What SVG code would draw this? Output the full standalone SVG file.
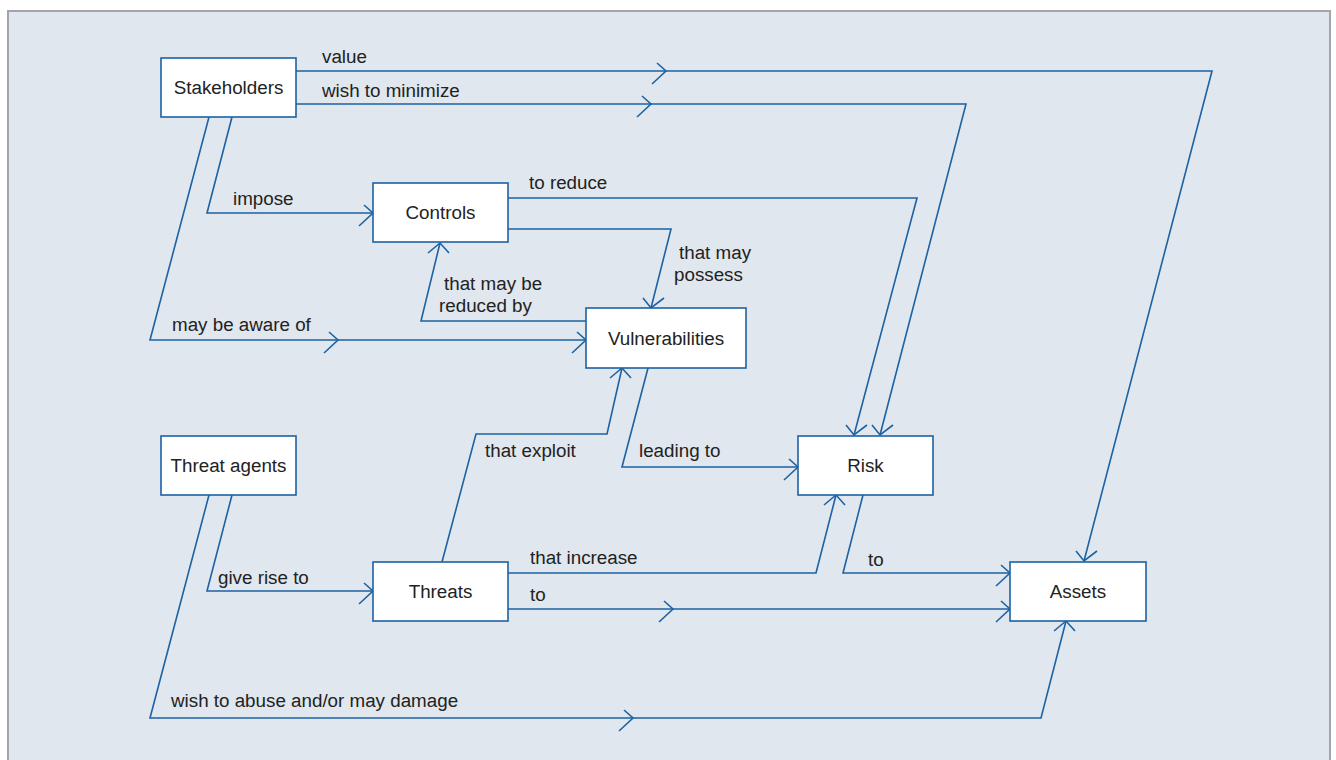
<svg xmlns="http://www.w3.org/2000/svg" xmlns:xlink="http://www.w3.org/1999/xlink" width="1336" height="760" viewBox="0 0 1336 760">
  <style>
    .panel { fill: #e0e7ee; stroke: #a3a5a8; stroke-width: 2; }
    .node rect { fill: #ffffff; stroke: #1d62a3; stroke-width: 1.6; }
    .node text { font-family: "Liberation Sans", Arial, sans-serif; font-size: 18.8px; fill: #222222; text-anchor: middle; }
    .link { fill: none; stroke: #1d62a3; stroke-width: 1.6; stroke-linejoin: miter; }
    .lbl { font-family: "Liberation Sans", Arial, sans-serif; font-size: 18.8px; fill: #222222; }
  </style>
  <defs>
    <!-- open chevron heads, slanted like the connector diagonals -->
    <path id="headR" d="M-9,-8 L0,0 L-14,13" class="link"/>
    <path id="headD" d="M-8,-10 L0,0 L13,-10" class="link"/>
    <path id="headU" d="M-12,10 L0,0 L9,10" class="link"/>
  </defs>

  <rect x="0" y="0" width="1336" height="760" fill="#ffffff"/>
  <rect class="panel" x="8" y="11" width="1322" height="760"/>

  <g id="connectors">
    <!-- Stakeholders -> Assets : value -->
    <path class="link" d="M296,71 H1212 L1084,561"/>
    <use href="#headR" x="666" y="71"/>
    <use href="#headD" x="1084" y="561"/>
    <text class="lbl" x="322" y="63">value</text>

    <!-- Stakeholders -> Risk : wish to minimize -->
    <path class="link" d="M296,104 H966 L880,435"/>
    <use href="#headR" x="651" y="104"/>
    <use href="#headD" x="880" y="435"/>
    <text class="lbl" x="322" y="97">wish to minimize</text>

    <!-- Stakeholders -> Controls : impose -->
    <path class="link" d="M232,117 L207,213 H373"/>
    <use href="#headR" x="373" y="213"/>
    <text class="lbl" x="233" y="205">impose</text>

    <!-- Stakeholders -> Vulnerabilities : may be aware of -->
    <path class="link" d="M209,117 L150,340 H586"/>
    <use href="#headR" x="338" y="340"/>
    <use href="#headR" x="586" y="340"/>
    <text class="lbl" x="172" y="331">may be aware of</text>

    <!-- Controls -> Risk : to reduce -->
    <path class="link" d="M508,198 H917 L854,435"/>
    <use href="#headD" x="854" y="435"/>
    <text class="lbl" x="529" y="189">to reduce</text>

    <!-- Controls -> Vulnerabilities : that may possess -->
    <path class="link" d="M508,229 H671 L651,308"/>
    <use href="#headD" x="651" y="308"/>
    <text class="lbl" x="679" y="259">that may</text>
    <text class="lbl" x="674" y="281">possess</text>

    <!-- Vulnerabilities -> Controls : that may be reduced by -->
    <path class="link" d="M586,321 H421 L440,243"/>
    <use href="#headU" x="440" y="243"/>
    <text class="lbl" x="444" y="290">that may be</text>
    <text class="lbl" x="439" y="312">reduced by</text>

    <!-- Threats -> Vulnerabilities : that exploit -->
    <path class="link" d="M442,562 L476,434 H607 L622,368"/>
    <use href="#headU" x="622" y="368"/>
    <text class="lbl" x="485" y="457">that exploit</text>

    <!-- Vulnerabilities -> Risk : leading to -->
    <path class="link" d="M648,368 L622,467 H798"/>
    <use href="#headR" x="798" y="467"/>
    <text class="lbl" x="639" y="457">leading to</text>

    <!-- Threat agents -> Threats : give rise to -->
    <path class="link" d="M232,495 L207,591 H373"/>
    <use href="#headR" x="373" y="591"/>
    <text class="lbl" x="218" y="584">give rise to</text>

    <!-- Threat agents -> Assets : wish to abuse and/or may damage -->
    <path class="link" d="M209,495 L150,718 H1041 L1066,621"/>
    <use href="#headR" x="633" y="718"/>
    <use href="#headU" x="1066" y="621"/>
    <text class="lbl" x="171" y="707">wish to abuse and/or may damage</text>

    <!-- Threats -> Risk : that increase -->
    <path class="link" d="M508,573 H816 L836,495"/>
    <use href="#headU" x="836" y="495"/>
    <text class="lbl" x="530" y="564">that increase</text>

    <!-- Threats -> Assets : to -->
    <path class="link" d="M508,609 H1010"/>
    <use href="#headR" x="673" y="609"/>
    <use href="#headR" x="1010" y="609"/>
    <text class="lbl" x="530" y="601">to</text>

    <!-- Risk -> Assets : to -->
    <path class="link" d="M863,495 L843,573 H1010"/>
    <use href="#headR" x="1010" y="573"/>
    <text class="lbl" x="868" y="566">to</text>
  </g>

  <g id="stakeholders" class="node">
    <rect x="161" y="58" width="135" height="59"/>
    <text x="228.5" y="94">Stakeholders</text>
  </g>
  <g id="controls" class="node">
    <rect x="373" y="183" width="135" height="59"/>
    <text x="440.5" y="219">Controls</text>
  </g>
  <g id="vulnerabilities" class="node">
    <rect x="586" y="308" width="160" height="60"/>
    <text x="666" y="344.5">Vulnerabilities</text>
  </g>
  <g id="risk" class="node">
    <rect x="798" y="436" width="135" height="59"/>
    <text x="865.5" y="472">Risk</text>
  </g>
  <g id="threat-agents" class="node">
    <rect x="161" y="436" width="135" height="59"/>
    <text x="228.5" y="472">Threat agents</text>
  </g>
  <g id="threats" class="node">
    <rect x="373" y="562" width="135" height="59"/>
    <text x="440.5" y="598">Threats</text>
  </g>
  <g id="assets" class="node">
    <rect x="1010" y="562" width="136" height="59"/>
    <text x="1078" y="598">Assets</text>
  </g>
</svg>
